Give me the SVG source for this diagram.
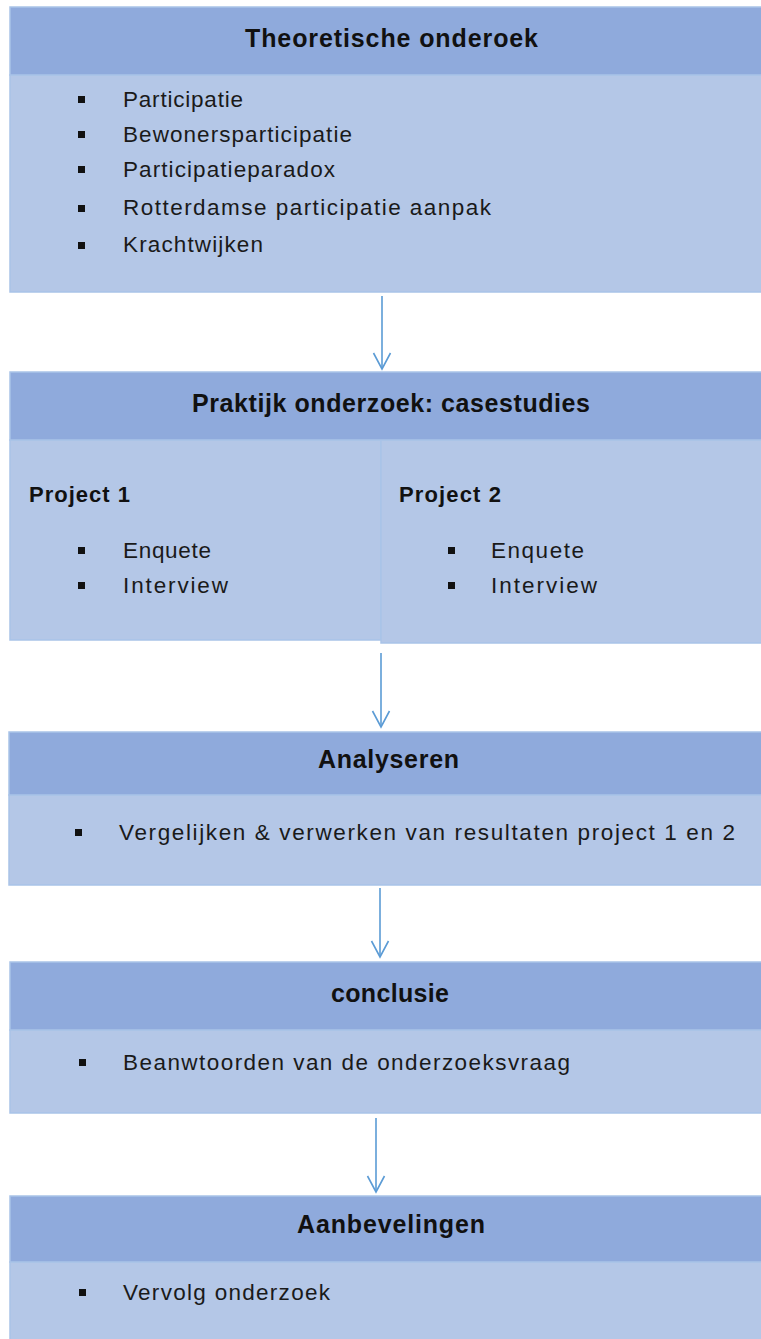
<svg xmlns="http://www.w3.org/2000/svg" width="761" height="1339" viewBox="0 0 761 1339">
<style>
.hd{fill:#8FAADC;stroke:#A9C3E8;stroke-width:1.5}
.bd{fill:#B4C7E7;stroke:#A9C3E8;stroke-width:1.5}
.t{font-family:"Liberation Sans",Arial,sans-serif;font-size:25px;font-weight:bold;fill:#111}
.p{font-family:"Liberation Sans",Arial,sans-serif;font-size:22px;font-weight:bold;fill:#111}
.b{font-family:"Liberation Sans",Arial,sans-serif;font-size:22.5px;fill:#1a1a1a}
.bl{fill:#111}
.con{stroke:#5B9BD5;stroke-width:1.6;fill:none}
</style>
<defs>
<marker id="ah" markerWidth="20" markerHeight="20" refX="17" refY="10" orient="auto" markerUnits="userSpaceOnUse" viewBox="0 0 20 20">
<path d="M1,1.5 L17,10 L1,18.5" fill="none" stroke="#5B9BD5" stroke-width="1.6"/>
</marker>
</defs>
<g id="connectors">
<line class="con" x1="382" y1="296" x2="382" y2="369" marker-end="url(#ah)"/>
<line class="con" x1="381" y1="653" x2="381" y2="727" marker-end="url(#ah)"/>
<line class="con" x1="380" y1="888" x2="380" y2="957" marker-end="url(#ah)"/>
<line class="con" x1="376" y1="1118" x2="376" y2="1192" marker-end="url(#ah)"/>
</g>
<g id="node-theorie">
<rect class="bd" x="10" y="75" width="765" height="217"/>
<rect class="hd" x="10" y="7" width="765" height="68"/>
<text class="t" x="245" y="47" textLength="293" lengthAdjust="spacing">Theoretische onderoek</text>
<rect class="bl" x="78" y="96" width="7" height="7"/>
<rect class="bl" x="78" y="131" width="7" height="7"/>
<rect class="bl" x="78" y="166" width="7" height="7"/>
<rect class="bl" x="78" y="205" width="7" height="7"/>
<rect class="bl" x="78" y="242" width="7" height="7"/>
<text class="b" x="123" y="107" textLength="120" lengthAdjust="spacing">Participatie</text>
<text class="b" x="123" y="142" textLength="229" lengthAdjust="spacing">Bewonersparticipatie</text>
<text class="b" x="123" y="177" textLength="212" lengthAdjust="spacing">Participatieparadox</text>
<text class="b" x="123" y="215" textLength="368" lengthAdjust="spacing">Rotterdamse  participatie  aanpak</text>
<text class="b" x="123" y="252" textLength="140" lengthAdjust="spacing">Krachtwijken</text>
</g>
<g id="node-praktijk">
<rect class="bd" x="10" y="440" width="371" height="200"/>
<rect class="bd" x="381" y="440" width="394" height="203"/>
<rect class="hd" x="10" y="372" width="765" height="68"/>
<text class="t" x="192" y="412" textLength="398" lengthAdjust="spacing">Praktijk onderzoek: casestudies</text>
<text class="p" x="29" y="502" textLength="101" lengthAdjust="spacing">Project 1</text>
<text class="p" x="399" y="502" textLength="102" lengthAdjust="spacing">Project 2</text>
<rect class="bl" x="78" y="547" width="7" height="7"/>
<rect class="bl" x="78" y="582" width="7" height="7"/>
<text class="b" x="123" y="558" textLength="88" lengthAdjust="spacing">Enquete</text>
<text class="b" x="123" y="593" textLength="105" lengthAdjust="spacing">Interview</text>
<rect class="bl" x="448" y="547" width="7" height="7"/>
<rect class="bl" x="448" y="582" width="7" height="7"/>
<text class="b" x="491" y="558" textLength="93" lengthAdjust="spacing">Enquete</text>
<text class="b" x="491" y="593" textLength="106" lengthAdjust="spacing">Interview</text>
</g>
<g id="node-analyseren">
<rect class="bd" x="9" y="795" width="766" height="90"/>
<rect class="hd" x="9" y="732" width="766" height="63"/>
<text class="t" x="318" y="768" textLength="141" lengthAdjust="spacing">Analyseren</text>
<rect class="bl" x="75" y="829" width="7" height="7"/>
<text class="b" x="119" y="840" textLength="616" lengthAdjust="spacing">Vergelijken &amp; verwerken van resultaten  project   1 en 2</text>
</g>
<g id="node-conclusie">
<rect class="bd" x="10" y="1030" width="765" height="83"/>
<rect class="hd" x="10" y="962" width="765" height="68"/>
<text class="t" x="331" y="1002" textLength="118" lengthAdjust="spacing">conclusie</text>
<rect class="bl" x="79" y="1059" width="7" height="7"/>
<text class="b" x="123" y="1070" textLength="447" lengthAdjust="spacing">Beanwtoorden  van de onderzoeksvraag</text>
</g>
<g id="node-aanbevelingen">
<rect class="bd" x="10" y="1262" width="765" height="90"/>
<rect class="hd" x="10" y="1196" width="765" height="66"/>
<text class="t" x="297" y="1233" textLength="188" lengthAdjust="spacing">Aanbevelingen</text>
<rect class="bl" x="79" y="1289" width="7" height="7"/>
<text class="b" x="123" y="1300" textLength="207" lengthAdjust="spacing">Vervolg onderzoek</text>
</g>
</svg>
